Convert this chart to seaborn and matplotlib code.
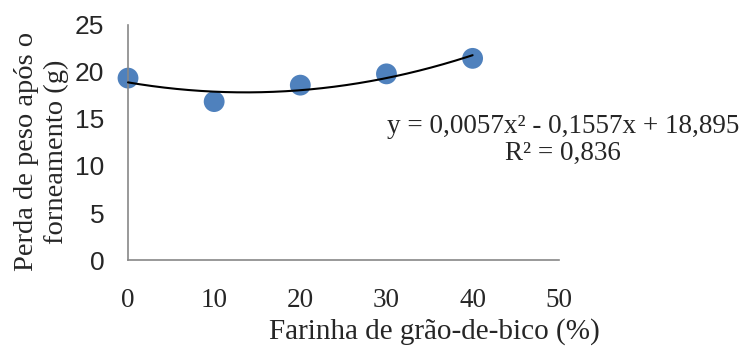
import numpy as np
import pandas as pd
import matplotlib
matplotlib.use("Agg")
import matplotlib.pyplot as plt
import seaborn as sns

# Data
farinha = [0, 10, 20, 30, 40]
perda = [19.35, 16.85, 18.6, 19.8, 21.45]
coef = [0.0057, -0.1557, 18.895]  # trendline y = a x^2 + b x + c
x_ticks = [0, 10, 20, 30, 40, 50]
y_ticks = [0, 5, 10, 15, 20, 25]
eq_text = "y = 0,0057x² - 0,1557x + 18,895\nR² = 0,836"

sns.set_style("white")
plt.rcParams['font.family'] = ['Liberation Sans', 'DejaVu Sans']
SERIF = ["Liberation Serif", "DejaVu Serif"]

fig = plt.figure(figsize=(7.46, 3.47), dpi=100)
ax = fig.add_axes([0.1716, 0.2507, 0.749 - 0.1716, 0.928 - 0.2507])

df = pd.DataFrame({"x": farinha, "y": perda})
xs = np.linspace(min(farinha), max(farinha), 200)
trend = pd.DataFrame({"x": xs, "y": np.polyval(coef, xs)})

sns.scatterplot(data=df, x="x", y="y", ax=ax, s=225, color="#4F81BD",
                edgecolor="none", zorder=2)
sns.lineplot(data=trend, x="x", y="y", ax=ax, color="black", lw=1.5, zorder=3)

ax.set_xlim(0, 50)
ax.set_ylim(0, 25)
ax.set_xticks(x_ticks)
ax.set_yticks(y_ticks)
for c in ax.collections + ax.lines:
    c.set_clip_on(False)

for s in ["top", "right"]:
    ax.spines[s].set_visible(False)
for s in ["left", "bottom"]:
    ax.spines[s].set_color("#888888")
    ax.spines[s].set_linewidth(1.2)

ax.tick_params(axis="both", length=0)
ax.tick_params(axis="y", labelsize=19, pad=17)
ax.tick_params(axis="x", pad=20)
for lab in ax.get_xticklabels():
    lab.set_fontfamily(SERIF)
    lab.set_fontsize(19.5)

ax.set_xlabel("Farinha de grão-de-bico (%)", fontsize=21, family=SERIF)
ax.xaxis.set_label_coords(0.712, -0.245)
ax.set_ylabel("Perda de peso após o\nforneamento (g)", fontsize=20.5,
              family=SERIF, linespacing=1.25)
ax.yaxis.set_label_coords(-0.137, 0.46)

ax.text(0.755, 0.597, eq_text, transform=fig.transFigure, ha="center", va="center",
        fontsize=19.5, family=SERIF, linespacing=1.1)

fig.savefig("out.png", dpi=100)
